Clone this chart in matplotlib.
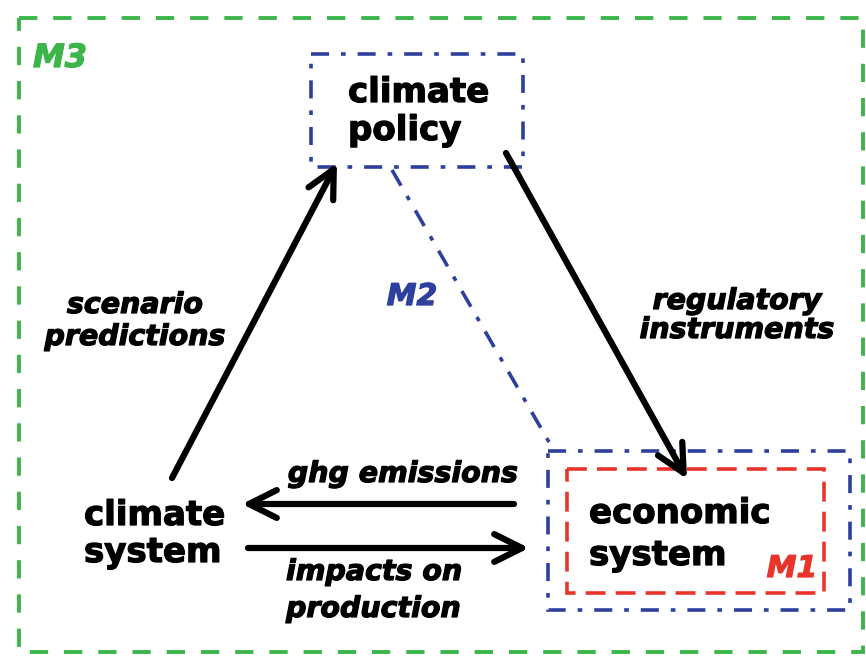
import matplotlib
matplotlib.use("Agg")
import matplotlib.pyplot as plt
from matplotlib.patches import Rectangle
import matplotlib.patheffects as pe

# ---- content ----
node_labels = ["climate\npolicy", "climate\nsystem", "economic\nsystem"]
edge_labels = ["scenario\npredictions", "regulatory\ninstruments", "ghg emissions", "impacts on\nproduction"]
model_labels = ["M1", "M2", "M3"]
model_colors = ["#e8352b", "#2f3f9e", "#3cb54a"]

W, H = 866, 657
fig = plt.figure(figsize=(W / 100, H / 100), dpi=100)
ax = fig.add_axes([0, 0, 1, 1])
ax.set_xlim(0, W)
ax.set_ylim(H, 0)
ax.axis("off")

FONT = "DejaVu Sans"

def rect(x0, y0, x1, y1, color, ls, lw=2.6):
    ax.add_patch(Rectangle((x0, y0), x1 - x0, y1 - y0, fill=False, edgecolor=color,
                           lw=lw, linestyle=ls, zorder=2))

dashdot = (0, (5, 3.3, 1.3, 3.3))
dashed = (0, (5.5, 2.8))
green_dash = (0, (4.7, 4.1))

# M3 outer green box
rect(19, 18, 863, 652, model_colors[2], green_dash, lw=2.8)
# climate policy box (M2)
rect(311, 54, 523, 167, model_colors[1], dashdot)
# economic system outer box (M2)
rect(548, 451, 850, 610, model_colors[1], dashdot)
# economic system inner box (M1)
rect(567, 469, 824, 593, model_colors[0], dashed)
# M2 connection line
ax.plot([392, 553], [170, 449], color=model_colors[1], lw=2.6, linestyle=dashdot, zorder=2)

def heavy(color):
    return [pe.withStroke(linewidth=0.9, foreground=color)]

def lines_text(x, y0, step, label, ha, color="black", **kw):
    for i, line in enumerate(label.split("\n")):
        ax.text(x, y0 + i * step, line, ha=ha, va="baseline", zorder=4, color=color,
                path_effects=heavy(color), **kw)

# node texts
node_font = dict(fontsize=24.5, fontweight="bold", family=FONT)
lines_text(348, 102, 38, node_labels[0], "left", **node_font)
lines_text(84, 525, 37, node_labels[1], "left", **node_font)
lines_text(589, 523, 42, node_labels[2], "left", **node_font)

# model labels
mfont = dict(fontweight="bold", style="italic", family=FONT)
lines_text(33, 67, 0, model_labels[2], "left", color=model_colors[2], fontsize=23, **mfont)
lines_text(412, 305, 0, model_labels[1], "center", color=model_colors[1], fontsize=21.5, **mfont)
lines_text(792, 577, 0, model_labels[0], "center", color=model_colors[0], fontsize=21.5, **mfont)

# arrows
arrow_kw = dict(arrowstyle="->,head_length=2.0,head_width=1.0", color="black", lw=4.5,
                shrinkA=0, shrinkB=0)
def arrow(x0, y0, x1, y1):
    ax.annotate("", xy=(x1, y1), xytext=(x0, y0), arrowprops=arrow_kw, zorder=3)

arrow(172, 478, 337, 163)
arrow(506, 153, 687, 479)
arrow(514, 504, 242, 504)
arrow(248, 548, 529, 548)

# edge labels
efont = dict(fontsize=20.5, fontweight="bold", style="italic", family=FONT)
lines_text(135, 313, 32, edge_labels[0], "center", **efont)
lines_text(737, 309, 29, edge_labels[1], "center", **efont)
lines_text(403, 482, 0, edge_labels[2], "center", **efont)
lines_text(286, 580, 37, edge_labels[3], "left", **efont)

fig.savefig("out.png", dpi=100, facecolor="white")
